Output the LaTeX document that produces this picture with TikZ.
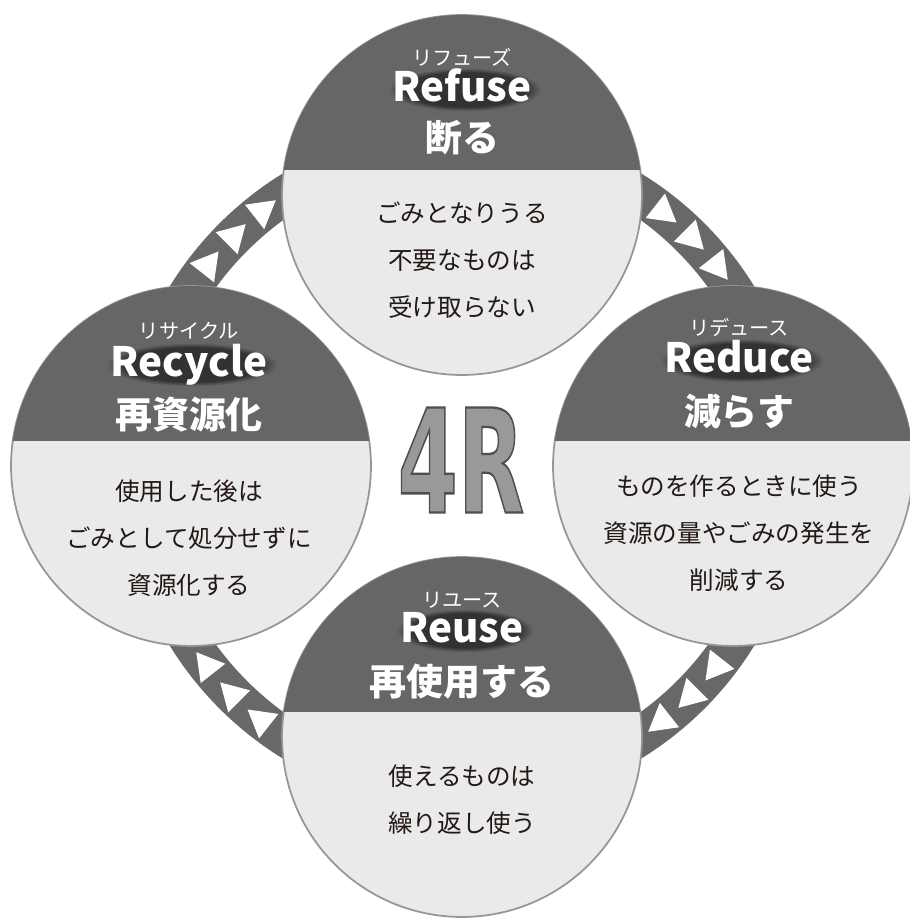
\documentclass[tikz,border=0pt]{standalone}
\usepackage{fontspec}
\setmainfont{Noto Sans CJK JP}
\newfontfamily\fourfont{DejaVu Sans}
\usetikzlibrary{shapes.geometric,fadings}
\definecolor{capgray}{RGB}{102,102,102}
\definecolor{bandgray}{RGB}{104,104,104}
\definecolor{lightfill}{RGB}{234,234,234}
\definecolor{circedge}{RGB}{150,150,150}
\definecolor{bodytext}{RGB}{35,24,21}
\definecolor{fourfill}{RGB}{153,153,153}
\pgfdeclarelayer{bg}
\pgfdeclarelayer{shade}
\pgfsetlayers{bg,shade,main}
% filled text with a thin dark stroke round each glyph (text render mode 2)
\newcommand\outlined[1]{{\color{fourfill}%
  \special{pdf:literal direct 0.31 0.31 0.31 RG 1.3 w 2 Tr}#1%
  \special{pdf:literal direct 0 Tr 0.4 w}}}
\begin{document}
\begin{tikzpicture}[x=0.02cm,y=0.02cm,
  circ/.style={circle, minimum size=7.2cm, inner sep=0pt, outer sep=0pt, draw=circedge, line width=1pt, fill=lightfill},
  ruby/.style={text=white, font=\fontsize{11.5}{11.5}\selectfont, inner sep=0pt},
  entitle/.style={text=white, font=\bfseries\fontsize{23}{23}\selectfont, inner sep=0pt, anchor=base},
  jptitle/.style={text=white, font=\bfseries\fontsize{21}{21}\selectfont, inner sep=0pt},
  body/.style={text=bodytext, font=\fontsize{14}{26.6}\selectfont, align=center, inner sep=0pt},
  arrowtri/.style={regular polygon, regular polygon sides=3, fill=white, inner sep=0pt, minimum size=0.72cm},
  fourtext/.style={font=\fourfont\bfseries\fontsize{82}{82}\selectfont, xscale=0.6, inner sep=0pt},
  glow/.style={fill=black, opacity=0.5, path fading=circle with fuzzy edge 20 percent}
]
\useasboundingbox (0,0) rectangle (909,918);
\begin{pgfonlayer}{bg}
\fill[white] (0,0) rectangle (909,918);
% ring band behind circles
\coordinate (ringc) at (462,452);
\fill[bandgray, even odd rule] (ringc) circle (343) (ringc) circle (304);
% triangles pointing clockwise
\foreach \a [count=\i] in {135,45,-45,-135}{
  \foreach \d [count=\j] in {-6.8,0,6.8}{
    \pgfmathsetmacro\ang{\a+\d}
    \node[arrowtri, rotate=\ang-180] (tri\i\j) at ([shift={(\ang:324)}]ringc) {};
  }
}
% circles
\node[circ] (refuse) at (462,723) {};
\node[circ] (reduce) at (733,452) {};
\node[circ] (reuse) at (462,181) {};
\node[circ] (recycle) at (191,452) {};
\foreach \n in {refuse,reduce,reuse,recycle}{
  \begin{scope}
    \clip (\n.center) circle (180);
    \fill[capgray] ([shift={(-182,25)}]\n.center) rectangle ([shift={(182,182)}]\n.center);
  \end{scope}
}
\end{pgfonlayer}
% Refuse
\node[ruby] (rubyA) at (462,861) {リフューズ};
\node[entitle] (titleA) at (462,816) {Refuse};
\node[jptitle] (jpA) at (462,780) {断る};
\node[body] (bodyA) at (462,658) {ごみとなりうる\\不要なものは\\受け取らない};
% Reduce
\node[ruby] (rubyB) at (739,591) {リデュース};
\node[entitle] (titleB) at (739,545) {Reduce};
\node[jptitle] (jpB) at (739,506) {減らす};
\node[body] (bodyB) at (739,385) {ものを作るときに使う\\資源の量やごみの発生を\\削減する};
% Reuse
\node[ruby] (rubyC) at (462,318) {リユース};
\node[entitle] (titleC) at (462,275) {Reuse};
\node[jptitle] (jpC) at (462,236) {再使用する};
\node[body] (bodyC) at (462,118) {使えるものは\\繰り返し使う};
% Recycle
\node[ruby] (rubyD) at (189,587) {リサイクル};
\node[entitle] (titleD) at (189,541) {Recycle};
\node[jptitle] (jpD) at (189,503) {再資源化};
\node[body] (bodyD) at (189,380) {使用した後は\\ごみとして処分せずに\\資源化する};
% soft shadows under the English titles
\begin{pgfonlayer}{shade}
\foreach \t in {titleA,titleB,titleC,titleD}{
  \fill[glow] ([shift={(-3,-9)}]\t.base west) rectangle ([shift={(9,34)}]\t.base east);
}
\end{pgfonlayer}
% 4R
\node[fourtext] (fourR) at (461,458) {\outlined{4R}};
\end{tikzpicture}
\end{document}
